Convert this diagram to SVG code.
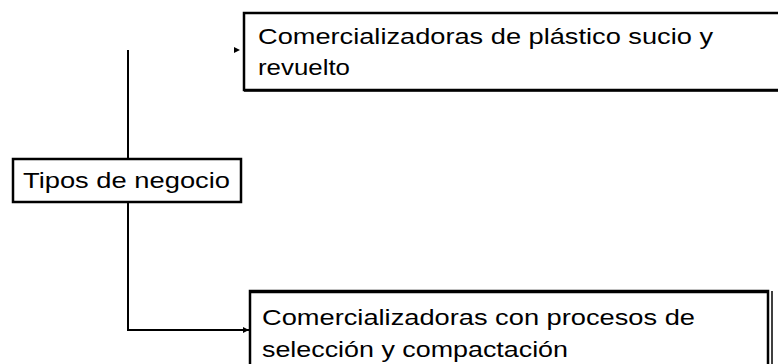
<svg xmlns="http://www.w3.org/2000/svg" width="778" height="364" viewBox="0 0 778 364">
<style>
.box{fill:#fff;stroke:#000;stroke-width:2.5}
.t{font-family:"Liberation Sans",Arial,sans-serif;font-size:22px;fill:#000}
.c{fill:none;stroke:#000;stroke-width:2}
</style>
<defs>
<marker id="ah" markerWidth="6" markerHeight="6" refX="6" refY="3" orient="auto" markerUnits="userSpaceOnUse">
<path d="M0,0 L6,3 L0,6 Z" fill="#000"/>
</marker>
</defs>
<rect width="778" height="364" fill="#fff"/>
<g id="connectors">
<path class="c" d="M128,50 V159"/>
<path class="c" d="M128,203 V330 H249" marker-end="url(#ah)"/>
<path d="M234,47 L240,50 L234,53 Z" fill="#000"/>
</g>
<g id="n-top">
<rect class="box" x="244" y="13" width="540" height="77"/>
<line x1="244" y1="91" x2="778" y2="91" stroke="#000" stroke-width="1.5"/>
<text class="t" x="258" y="44" textLength="455" lengthAdjust="spacingAndGlyphs">Comercializadoras de plástico sucio y</text>
<text class="t" x="258" y="75" textLength="92" lengthAdjust="spacingAndGlyphs">revuelto</text>
</g>
<g id="n-tipos">
<rect class="box" x="13" y="159" width="228" height="43"/>
<text class="t" x="23" y="188" textLength="207" lengthAdjust="spacingAndGlyphs">Tipos de negocio</text>
</g>
<g id="n-bottom">
<rect class="box" x="250" y="291" width="518" height="90"/>
<line x1="250" y1="292.5" x2="768" y2="292.5" stroke="#000" stroke-width="1.5"/>
<line x1="772" y1="291" x2="772" y2="364" stroke="#000" stroke-width="1.5"/>
<text class="t" x="262" y="325" textLength="433" lengthAdjust="spacingAndGlyphs">Comercializadoras con procesos de</text>
<text class="t" x="262" y="357" textLength="306" lengthAdjust="spacingAndGlyphs">selección y compactación</text>
</g>
</svg>
